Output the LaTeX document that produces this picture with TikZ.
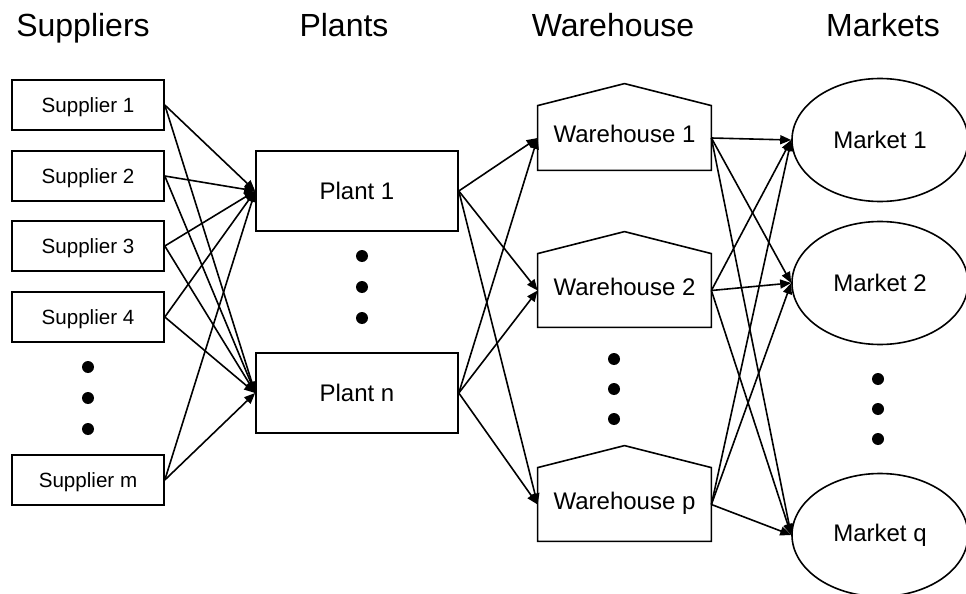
\documentclass[tikz,border=0pt]{standalone}
\usepackage{fontspec}
\setmainfont{Liberation Sans}
\usetikzlibrary{arrows.meta,positioning,calc,shapes.geometric}

\tikzset{
  supplierbox/.style={draw, line width=0.8pt, minimum width=76pt, minimum height=25pt, inner sep=0pt, text depth=0pt, font=\fontsize{10.3}{12}\selectfont},
  plantbox/.style={draw, line width=0.8pt, minimum width=101pt, minimum height=40pt, inner sep=0pt, font=\fontsize{12}{14}\selectfont},
  housebox/.style={minimum width=86.5pt, inner sep=0pt, text height=8.8pt, text depth=4.2pt, font=\fontsize{12}{14}\selectfont},
  marketnode/.style={draw, ellipse, line width=0.8pt, minimum width=88pt, minimum height=61.5pt, inner sep=0pt, font=\fontsize{12}{14}\selectfont},
  heading/.style={anchor=base, font=\fontsize{16}{19}\selectfont},
  flow/.style={line width=0.8pt, -{Triangle[length=5.5pt,width=4.5pt]}},
}

\begin{document}
\begin{tikzpicture}[x=0.5pt,y=-0.5pt]
    \useasboundingbox (0,0) rectangle (966,594);

    % column titles
    \node[heading] (hsup) at (83,36) {Suppliers};
    \node[heading] (hpla) at (344,36) {Plants};
    \node[heading] (hwar) at (613,36) {Warehouse};
    \node[heading] (hmar) at (883,36) {Markets};

    % suppliers
    \node[supplierbox] (s1) at (88,105) {Supplier 1};
    \node[supplierbox] (s2) at (88,176) {Supplier 2};
    \node[supplierbox] (s3) at (88,246) {Supplier 3};
    \node[supplierbox] (s4) at (88,317) {Supplier 4};
    \node[supplierbox] (sm) at (88,480) {Supplier m};

    % plants
    \node[plantbox] (p1) at (357,191) {Plant 1};
    \node[plantbox] (pn) at (357,393) {Plant n};

    % warehouses
    \node[housebox, minimum height=32pt] (w1) at (624.5,138) {Warehouse 1};
    \node[housebox, minimum height=36.5pt] (w2) at (624.5,290.5) {Warehouse 2};
    \node[housebox, minimum height=36.5pt] (wp) at (624.5,504.5) {Warehouse p};
    \foreach \w in {w1,w2,wp}
        \draw[line width=0.8pt] (\w.south west) -- (\w.north west) -- ($(\w.north)+(0,-22)$) -- (\w.north east) -- (\w.south east) -- cycle;

    % markets
    \node[marketnode] (m1) at (880,140) {Market 1};
    \node[marketnode] (m2) at (880,283) {Market 2};
    \node[marketnode] (mq) at (880,535) {Market q};

    % dots
    \foreach \y in {367,398,429} \fill (88,\y) circle (3pt);
    \foreach \y in {256,287,318} \fill (362,\y) circle (3pt);
    \foreach \y in {359,389,419} \fill (614,\y) circle (3pt);
    \foreach \y in {379,409,439} \fill (878,\y) circle (3pt);

    % flows
    \foreach \s in {s1,s2,s3,s4,sm}
        \foreach \p in {p1,pn}
            \draw[flow] (\s.east) -- (\p.west);
    \foreach \p in {p1,pn}
        \foreach \w in {w1,w2,wp}
            \draw[flow] (\p.east) -- (\w.west);
    \foreach \w in {w1,w2,wp}
        \foreach \m in {m1,m2,mq}
            \draw[flow] (\w.east) -- (\m.west);
\end{tikzpicture}
\end{document}
